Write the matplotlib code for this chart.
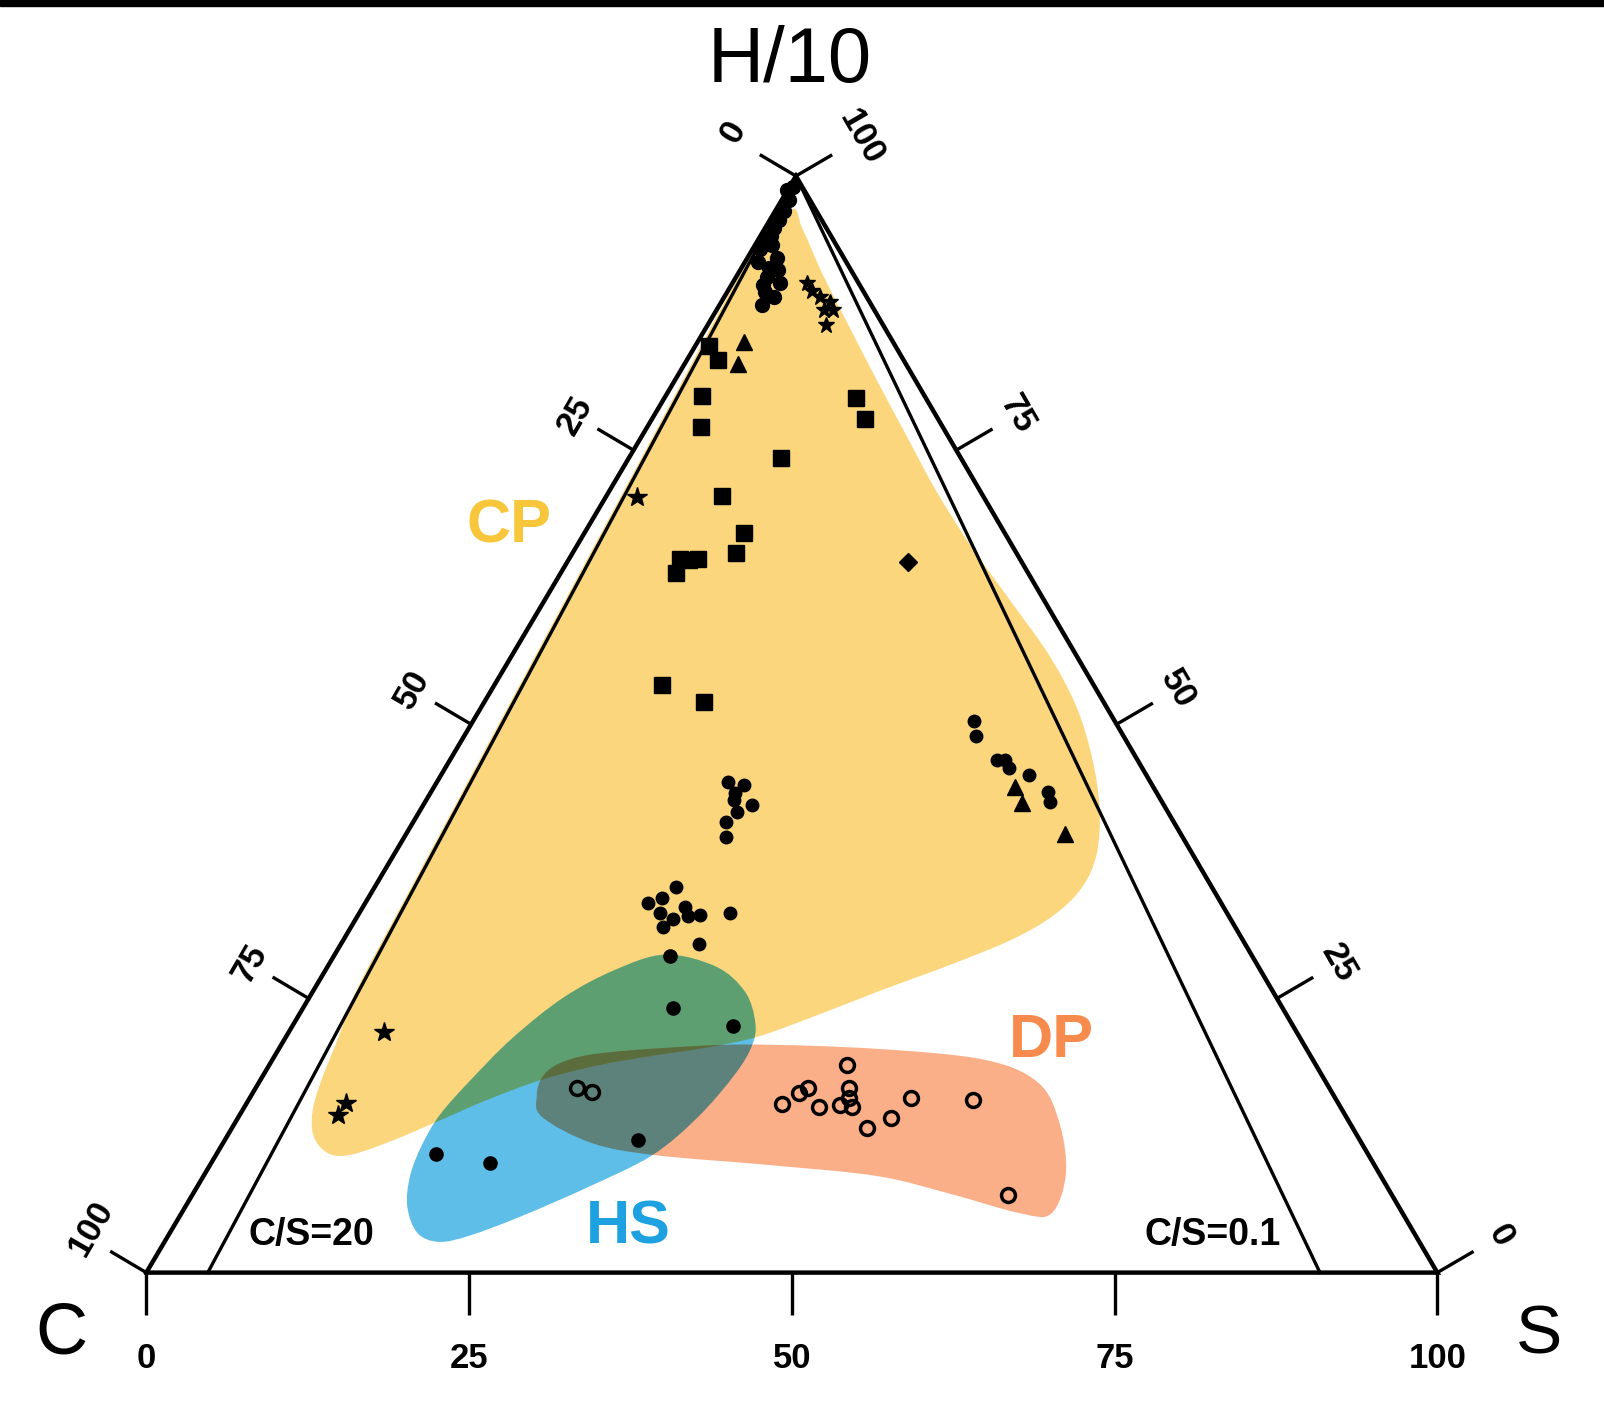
import numpy as np
import matplotlib
matplotlib.use("Agg")
import matplotlib.pyplot as plt
from matplotlib.path import Path
from matplotlib.patches import PathPatch, Rectangle

plt.rcParams["font.family"] = ["Liberation Sans", "DejaVu Sans"]

# ---------------- data (ternary: S %, H/10 %; C = 100 - S - H) ----------------
square_S = [2.4, 2.8, 4.2, 14.8, 16.5, 11.8, 9.0, 12.4, 12.7, 8.6, 10.0, 8.9, 9.3, 13.0, 17.0, 1.1]
square_H = [83.2, 79.9, 77.1, 79.8, 77.8, 74.3, 70.8, 67.4, 65.6, 65.1, 65.1, 63.8, 65.0, 53.6, 52.0, 84.5]

triangle_S = [4.1, 3.6, 45.0, 46.3, 51.0]
triangle_H = [82.9, 84.9, 44.3, 42.8, 40.0]

diamond_S = [26.4]
diamond_H = [64.8]

star_S = [2.4, 7.4, 7.7, 7.6]
star_H = [70.7, 21.9, 15.5, 14.4]

small_star_S = [5.8, 6.5, 7.4, 8.4, 8.3, 9.0, 9.2]
small_star_H = [90.2, 89.5, 89.0, 88.5, 87.8, 87.8, 86.4]

apex_dot_S = [0.0, 0.26, 0.6, 0.66, 0.7, 0.7, 0.8, 0.82, 1.34, 0.6, 1.0, 2.3, 2.17,
              2.9, 2.4, 2.44, 2.95, 3.3, 3.7, 3.87]
apex_dot_H = [98.7, 99.0, 97.8, 96.8, 96.0, 95.3, 94.5, 93.8, 93.7, 93.3, 92.2, 92.5, 91.6,
              91.4, 90.8, 90.1, 89.4, 88.2, 90.2, 89.0]

dot_S = [38.8, 39.7, 42.4, 43.0, 43.7, 45.5, 47.8, 48.4,
         22.6, 23.9, 23.6, 23.8, 24.6, 25.5, 24.2, 24.9,
         23.3, 21.9, 22.7, 23.3, 24.2, 24.6, 25.0, 25.6, 26.5, 28.7, 27.7]
dot_H = [50.3, 48.9, 46.7, 46.7, 46.0, 45.4, 43.8, 42.9,
         44.7, 44.5, 43.75, 43.1, 42.0, 42.6, 41.1, 39.7,
         35.2, 33.7, 34.2, 32.8, 31.5, 32.2, 33.3, 32.5, 32.6, 32.8, 30.0]

big_dot_S = [26.0, 28.7, 34.1, 17.0, 21.6, 32.0]
big_dot_H = [28.9, 24.1, 22.5, 10.8, 10.0, 12.1]

open_S = [24.9, 26.2, 44.8, 41.5, 42.3, 42.8, 44.5, 46.0, 46.4, 46.0, 47.1, 49.2, 50.6, 51.2, 56.1, 63.2]
open_H = [16.8, 16.5, 18.9, 15.4, 16.4, 16.8, 15.1, 16.8, 15.9, 15.3, 15.1, 13.2, 14.1, 15.9, 15.7, 7.1]

# field outlines (ternary S, H)
cp_S = [1.1, 3.0, 6.7, 11.1, 15.9, 20.4, 25.3, 30.7, 36.4, 41.6, 46.0, 49.6, 52.5, 54.4,
        54.8, 53.9, 51.8, 48.2, 43.9, 40.2, 36.5, 33.0, 29.4, 25.5, 21.8, 18.4, 15.5,
        13.1, 10.6, 8.8, 6.9, 5.6, 4.8, 4.1, 3.3, 2.85, 1.89, 0.94, 0.18]
cp_H = [96.9, 95.1, 90.9, 86.2, 81.1, 76.4, 71.3, 66.1, 61.0, 56.3, 51.7, 47.0, 42.4, 38.2,
        35.1, 32.6, 30.4, 28.1, 25.7, 23.5, 21.5, 20.5, 19.8, 18.9, 17.6, 15.7, 13.7,
        12.1, 10.8, 10.8, 12.2, 14.4, 17.2, 21.4, 26.0, 35.0, 55.0, 75.0, 92.0]

hs_S = [25.6, 30.1, 33.5, 35.7, 36.5, 36.5, 35.6, 33.8, 30.3, 26.4, 23.4, 21.3, 19.2,
        17.2, 16.0, 15.5, 15.5, 16.3, 17.6, 19.7, 22.4]
hs_H = [29.0, 27.9, 25.6, 22.8, 20.7, 18.1, 14.2, 10.7, 7.8, 5.1, 3.4, 2.8, 3.6,
        6.0, 8.8, 11.6, 14.4, 17.6, 21.4, 25.1, 27.6]

dp_S = [22.1, 21.7, 22.3, 24.5, 29.9, 36.3, 46.4, 55.2, 60.4, 63.9, 66.7, 67.4, 65.0,
        58.6, 52.2, 43.4, 34.1, 28.6, 23.5]
dp_H = [16.2, 17.8, 19.0, 19.9, 20.5, 20.8, 20.4, 19.4, 17.3, 13.6, 9.0, 5.4, 5.4,
        7.2, 8.8, 9.8, 10.7, 11.8, 14.2]

ticks = [0, 25, 50, 75, 100]
ratio_lines = [20, 0.1]           # C/S ratios of the guide lines

cp_color = "#FBD67D"
hs_color = "#5FBEE8"
dp_color = "#FBAF89"

# ---------------- layout ----------------
W, HPX, DPI = 1604, 1423, 100
AX_RECT = [146.3 / W, (HPX - 1272.6) / HPX, 1291.0 / W, 1096.6 / HPX]
APEX_X = 50.32                    # horizontal position of the H/10 corner


def tern(S, H):
    S = np.asarray(S, float)
    H = np.asarray(H, float)
    return S + H * APEX_X / 100.0, H


def smooth_closed_path(S, H):
    x, y = tern(S, H)
    P = np.column_stack([x, y])
    n = len(P)
    verts = [P[0]]
    codes = [Path.MOVETO]
    for i in range(n):
        p0, p1, p2, p3 = P[i - 1], P[i], P[(i + 1) % n], P[(i + 2) % n]
        c1 = p1 + (p2 - p0) / 6.0
        c2 = p2 - (p3 - p1) / 6.0
        verts += [c1, c2, p2]
        codes += [Path.CURVE4] * 3
    verts.append(P[0])
    codes.append(Path.CLOSEPOLY)
    return Path(np.array(verts), codes)


def coverage(path):
    f = plt.figure(figsize=(W / DPI, HPX / DPI), dpi=DPI)
    a = f.add_axes(AX_RECT)
    a.set_xlim(0, 100)
    a.set_ylim(0, 100)
    a.axis("off")
    a.add_patch(PathPatch(path, facecolor="black", edgecolor="none", lw=0))
    f.canvas.draw()
    img = np.asarray(f.canvas.buffer_rgba())[..., 0].astype(float) / 255.0
    plt.close(f)
    return 1.0 - img


fig = plt.figure(figsize=(W / DPI, HPX / DPI), dpi=DPI)
ax = fig.add_axes(AX_RECT)
ax.set_xlim(0, 100)
ax.set_ylim(0, 100)
ax.axis("off")
ax.set_zorder(1)

# ---- fields, composited with multiply blending ----
regions = [(smooth_closed_path(cp_S, cp_H), cp_color),
           (smooth_closed_path(hs_S, hs_H), hs_color),
           (smooth_closed_path(dp_S, dp_H), dp_color)]
comp = np.ones((HPX, W, 3))
for path, col in regions:
    cov = coverage(path)[..., None]
    rgb = np.array(matplotlib.colors.to_rgb(col))
    comp *= 1.0 - cov * (1.0 - rgb)
fig.figimage(comp, xo=0, yo=0, origin="upper", zorder=0)

# ---- frame ----
apex = tern(0, 100)
cC = tern(0, 0)
cS = tern(100, 0)
ax.plot([cC[0], cS[0], apex[0], cC[0]], [cC[1], cS[1], apex[1], cC[1]],
        color="black", lw=3.2, solid_joinstyle="miter", clip_on=False, zorder=3)
for r in ratio_lines:
    s0 = 100.0 / (1.0 + r)
    p = tern(s0, 0)
    ax.plot([apex[0], p[0]], [apex[1], p[1]], color="black", lw=2.4,
            clip_on=False, zorder=3)

# ---- ticks and tick labels ----
to_px = ax.transData.transform
to_data = ax.transData.inverted().transform
apx, cpx, spx = to_px(apex), to_px(cC), to_px(cS)
dl = (apx - cpx) / np.hypot(*(apx - cpx))
dr = (apx - spx) / np.hypot(*(apx - spx))
n_left = np.array([-dl[1], dl[0]])
n_right = np.array([dr[1], -dr[0]])
n_bottom = np.array([0.0, -1.0])
TICK_PX = 42

tick_font = dict(fontsize=25, fontweight="bold", ha="center", va="center",
                 rotation_mode="anchor")


def draw_tick(pt, normal, tangent, label, rot, dist, shift=0.0):
    p = to_px(pt)
    q = to_data(p + normal * TICK_PX)
    ax.plot([pt[0], q[0]], [pt[1], q[1]], color="black", lw=2.4,
            solid_capstyle="butt", clip_on=False, zorder=3)
    t = to_data(p + normal * dist + tangent * shift)
    ax.text(t[0], t[1], label, rotation=rot, **tick_font)


for v in ticks:
    draw_tick(tern(v, 0), n_bottom, np.array([1.0, 0.0]), str(v), 0, 86)
for v in ticks:                        # C scale along the left side
    dist = 76 if v == 0 else (70 if v == 100 else 68)
    shift = 10 if v == 100 else (6 if v == 0 else 0)
    draw_tick(tern(0, 100 - v), n_left, dl, str(v), 60, dist, shift)
for v in ticks:                        # H/10 scale along the right side
    dist = 76 if v == 100 else (73 if v == 0 else 71)
    draw_tick(tern(100 - v, v), n_right, dr, str(v), -60, dist)

# ---- data points ----
mk = dict(linestyle="none", clip_on=False, zorder=4)
ax.plot(*tern(apex_dot_S, apex_dot_H), marker="o", ms=10, color="black", **mk)
ax.plot(*tern(square_S, square_H), marker="s", ms=11, color="black", **mk)
ax.plot(*tern(triangle_S, triangle_H), marker="^", ms=12, color="black", **mk)
ax.plot(*tern(diamond_S, diamond_H), marker="D", ms=9.5, color="black", **mk)
ax.plot(*tern(star_S, star_H), marker="*", ms=15, color="black", **mk)
ax.plot(*tern(small_star_S, small_star_H), marker="*", ms=12, color="black", **mk)
ax.plot(*tern(dot_S, dot_H), marker="o", ms=9, color="black", **mk)
ax.plot(*tern(big_dot_S, big_dot_H), marker="o", ms=9.5, color="black", **mk)
ax.plot(*tern(open_S, open_H), marker="o", ms=10, mfc="none", mec="black",
        mew=2.5, **mk)

# ---- labels ----
ax.text(49.8, 110.4, "H/10", fontsize=56, ha="center", va="center")
ax.text(-6.6, -5.7, "C", fontsize=52, ha="center", va="center")
ax.text(107.9, -5.7, "S", fontsize=50, ha="center", va="center")
ax.text(12.8, 3.45, "C/S=20", fontsize=27, fontweight="bold", ha="center", va="center")
ax.text(82.6, 3.45, "C/S=0.1", fontsize=27, fontweight="bold", ha="center", va="center")
ax.text(28.1, 68.0, "CP", fontsize=44, fontweight="bold", color="#F8C63A",
        ha="center", va="center")
ax.text(70.1, 21.1, "DP", fontsize=44, fontweight="bold", color="#F78A4D",
        ha="center", va="center")
ax.text(37.3, 4.1, "HS", fontsize=44, fontweight="bold", color="#1DA1E0",
        ha="center", va="center")

# thin dark border along the top edge
fig.add_artist(Rectangle((0, 1 - 6.0 / HPX), 1, 6.0 / HPX, transform=fig.transFigure,
                         color="black", zorder=10))

fig.savefig("out.png", dpi=DPI)
